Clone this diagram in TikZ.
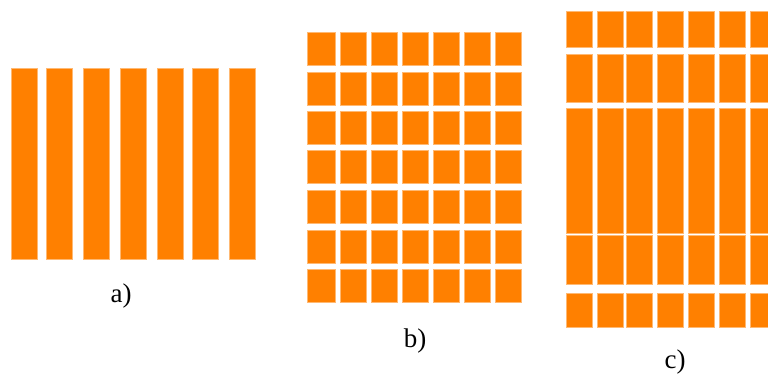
\documentclass[tikz,border=0pt]{standalone}
\usepackage{fontspec}
\setmainfont{Liberation Serif}
\tikzset{
  bar/.style={fill=orange, draw=orange!55, line width=0.4pt},
  caption/.style={font=\fontsize{27}{30}\selectfont, inner sep=0pt}
}
\begin{document}
\begin{tikzpicture}[x=1pt,y=-1pt]
  \useasboundingbox (0,0) rectangle (768,376);
  % a) long strips
  \foreach \x in {11,46,83,120,157,192,229}
    \fill[bar] (\x,68) rectangle ++(26,191);
  \node[caption] (capa) at (121,296) {a)};
  % b) square grid
  \foreach \x/\w in {307/28,340/26,371/26,402/26,433/26,464/26,495/26}
    \foreach \y in {32,72,111,150,190,230,269}
      \fill[bar] (\x,\y) rectangle ++(\w,33);
  \node[caption] (capb) at (415,341) {b)};
  % c) uneven rows
  \foreach \x in {566,597,626,657,688,719,750}
    \foreach \y/\h in {11/36,54/48,108/125,235/49,293/34}
      \fill[bar] (\x,\y) rectangle ++(26,\h);
  \node[caption] (capc) at (675,362) {c)};
\end{tikzpicture}
\end{document}
